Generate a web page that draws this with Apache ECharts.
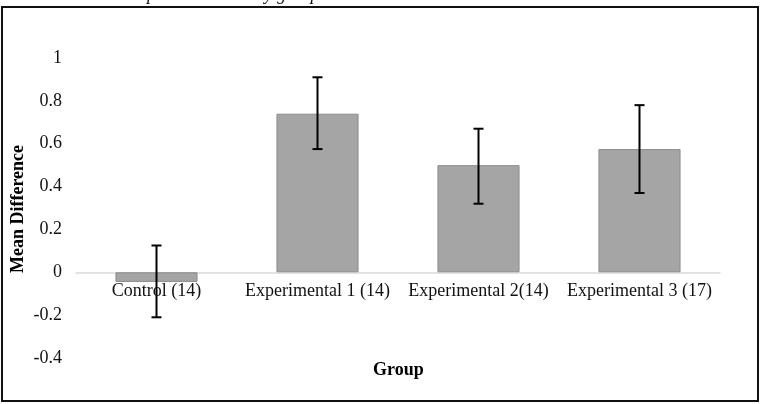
<!DOCTYPE html>
<html>
<head>
<meta charset="utf-8">
<script src="https://cdn.jsdelivr.net/npm/echarts@6/dist/echarts.min.js"></script>
<style>
html, body { margin: 0; padding: 0; background: #fff; }
#block1 { width: 766px; height: 404px; }
</style>
</head>
<body>
<div id="block1"></div>
<script>
// groups and mean differences
var categories = ['Control (14)', 'Experimental 1 (14)', 'Experimental 2(14)', 'Experimental 3 (17)'];
var means = [-0.045, 0.74, 0.5, 0.575];
var errLow = [-0.21, 0.575, 0.32, 0.37];
var errHigh = [0.125, 0.91, 0.67, 0.78];
var yTicks = [-0.4, -0.2, 0, 0.2, 0.4, 0.6, 0.8, 1];

var serif = '"Liberation Serif", "Times New Roman", serif';

var errData = categories.map(function (c, i) { return [i, errLow[i], errHigh[i]]; });

// plot height 300px; lift the category axis up to the zero line
var yMin = yTicks[0], yMax = yTicks[yTicks.length - 1];
var zeroLift = 300 * (0 - yMin) / (yMax - yMin);

var option1 = {
    animation: false,
    backgroundColor: '#fff',
    grid: { left: 76, right: 46, top: 58, bottom: 46, outerBoundsMode: 'none' },
    xAxis: {
        type: 'category',
        data: categories,
        offset: -zeroLift,
        axisLine: { onZero: false, lineStyle: { color: '#d9d9d9', width: 1.5 } },
        axisTick: { show: false },
        axisLabel: { color: '#111', fontFamily: serif, fontSize: 18, margin: 10, interval: 0 },
        z: 1
    },
    yAxis: {
        type: 'value',
        min: yMin,
        max: yMax,
        interval: 0.2,
        axisLine: { show: false },
        axisTick: { show: false },
        splitLine: { show: false },
        axisLabel: {
            color: '#111', fontFamily: serif, fontSize: 18, margin: 14,
            formatter: function (v) { return String(Math.round(v * 10) / 10); }
        }
    },
    graphic: [
        {
            type: 'rect',
            shape: { x: 2, y: 7, width: 756, height: 394 },
            style: { fill: 'none', stroke: '#111', lineWidth: 2 },
            silent: true
        },
        {
            type: 'text',
            left: 0,
            top: -14,
            style: {
                text: 'nce in Post-test and pre-test scores by group.',
                font: 'italic 18px ' + serif,
                fill: '#111'
            }
        },
        {
            type: 'text',
            x: 18,
            y: 209,
            rotation: Math.PI / 2,
            style: {
                text: 'Mean Difference',
                font: 'bold 18px ' + serif,
                fill: '#000',
                align: 'center',
                verticalAlign: 'middle'
            }
        },
        {
            type: 'text',
            left: 373,
            top: 361,
            style: { text: 'Group', font: 'bold 18px ' + serif, fill: '#000' }
        }
    ],
    series: [
        {
            type: 'bar',
            data: means,
            barCategoryGap: '49%',
            itemStyle: { color: '#a5a5a5', borderColor: '#8c8c8c', borderWidth: 1 },
            z: 2
        },
        {
            type: 'custom',
            data: errData,
            z: 5,
            renderItem: function (params, api) {
                var lo = api.coord([api.value(0), api.value(1)]);
                var hi = api.coord([api.value(0), api.value(2)]);
                var cap = 5;
                var st = { stroke: '#000', lineWidth: 2 };
                return {
                    type: 'group',
                    children: [
                        { type: 'line', shape: { x1: hi[0], y1: hi[1], x2: lo[0], y2: lo[1] }, style: st },
                        { type: 'line', shape: { x1: hi[0] - cap, y1: hi[1], x2: hi[0] + cap, y2: hi[1] }, style: st },
                        { type: 'line', shape: { x1: lo[0] - cap, y1: lo[1], x2: lo[0] + cap, y2: lo[1] }, style: st }
                    ]
                };
            }
        }
    ]
};

var myChart1 = echarts.init(document.getElementById('block1'));
myChart1.setOption(option1);
</script>
</body>
</html>
